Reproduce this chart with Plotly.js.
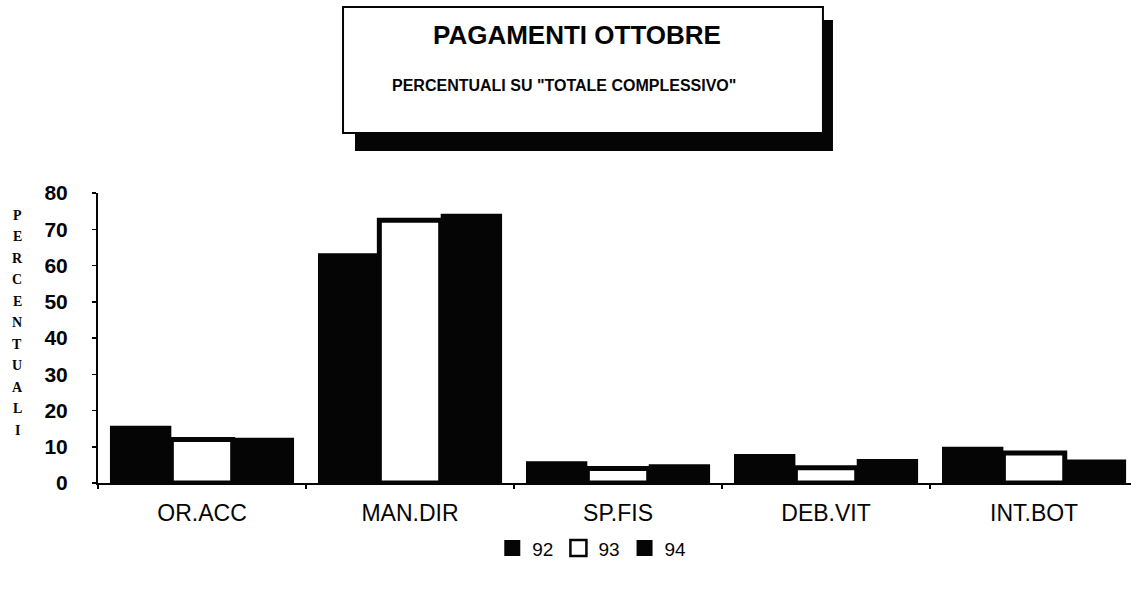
<!DOCTYPE html>
<html>
<head>
<meta charset="utf-8">
<script src="https://cdn.plot.ly/plotly-3.0.1.min.js"></script>
<style>
  html, body { margin: 0; padding: 0; background: #fff; }
  #chart { width: 1131px; height: 590px; }
</style>
</head>
<body>
<div id="chart"></div>
<script>
// ---- data ----
const categories = ["OR.ACC", "MAN.DIR", "SP.FIS", "DEB.VIT", "INT.BOT"];
const seriesNames = ["92", "93", "94"];
const values92 = [15.8, 63.4, 6.0, 8.0, 10.0];
const values93 = [12.0, 72.5, 4.0, 4.2, 8.3];
const values94 = [12.5, 74.3, 5.2, 6.6, 6.5];
const yTickValues = [0, 10, 20, 30, 40, 50, 60, 70, 80];
const chartTitle = "PAGAMENTI OTTOBRE";
const chartSubtitle = "PERCENTUALI SU \"TOTALE COMPLESSIVO\"";
const yTitle = "PERCENTUALI";

// ---- style ----
const INK = "#050505";
const SANS = "Liberation Sans, Arial, sans-serif";
const SERIF = "Liberation Serif, Times New Roman, serif";

const barTrace = (name, vals, white) => ({
  type: "bar",
  name: name,
  x: categories,
  y: vals,
  showlegend: false,
  hoverinfo: "skip",
  marker: white
    ? { color: "#ffffff", line: { color: INK, width: 5 } }
    : { color: INK, line: { color: INK, width: 0 } }
});

const legendTrace = (name, white) => ({
  type: "scatter",
  mode: "markers",
  name: name,
  x: [null],
  y: [null],
  showlegend: true,
  marker: {
    symbol: "square",
    size: 16,
    color: white ? "#ffffff" : INK,
    line: { color: INK, width: white ? 2.5 : 0 }
  }
});

const data = [
  barTrace(seriesNames[0], values92, false),
  barTrace(seriesNames[1], values93, true),
  barTrace(seriesNames[2], values94, false),
  legendTrace(seriesNames[0], false),
  legendTrace(seriesNames[1], true),
  legendTrace(seriesNames[2], false)
];

// vertical, letter-by-letter axis title
const letterAnnotations = yTitle.split("").map((ch, i) => ({
  xref: "paper", yref: "paper",
  x: -0.078, y: (483 - 215 - i * 21.5) / 290,
  xanchor: "center", yanchor: "middle",
  text: "<b>" + ch + "</b>",
  showarrow: false,
  font: { family: SERIF, size: 14, color: INK }
}));

const layout = {
  width: 1131,
  height: 590,
  margin: { l: 98, r: 0, t: 193, b: 107 },
  paper_bgcolor: "#ffffff",
  plot_bgcolor: "#ffffff",
  barmode: "group",
  bargap: 0.115,
  bargroupgap: 0,
  showlegend: true,
  legend: {
    orientation: "h",
    x: 0.478, xanchor: "center",
    y: -0.225, yanchor: "middle",
    font: { family: SANS, size: 19, color: INK },
    itemsizing: "trace",
    itemwidth: 30,
    bgcolor: "rgba(0,0,0,0)"
  },
  xaxis: {
    type: "category",
    range: [-0.5, 4.466],
    showline: true,
    linecolor: INK,
    linewidth: 2,
    ticks: "outside",
    tickson: "boundaries",
    ticklen: 4,
    tickwidth: 1.5,
    tickcolor: INK,
    showgrid: false,
    zeroline: false,
    ticklabelstandoff: 8,
    tickfont: { family: SANS, size: 23, color: INK }
  },
  yaxis: {
    range: [0, 80],
    tickvals: yTickValues,
    ticktext: yTickValues.map(String),
    showline: true,
    linecolor: INK,
    linewidth: 2,
    ticks: "outside",
    ticklen: 4,
    tickwidth: 1.5,
    tickcolor: INK,
    showgrid: false,
    zeroline: false,
    ticklabelstandoff: 20,
    tickfont: { family: SANS, size: 21, color: INK, weight: "bold" }
  },
  shapes: [
    // shadow of the title box
    { type: "rect", xref: "paper", yref: "paper",
      x0: 0.2488, x1: 0.7115, y0: 1.1448, y1: 1.5966,
      fillcolor: INK, line: { width: 0 }, layer: "above" },
    // title box
    { type: "rect", xref: "paper", yref: "paper",
      x0: 0.2372, x1: 0.7018, y0: 1.2069, y1: 1.6414,
      fillcolor: "#ffffff", line: { color: INK, width: 2 }, layer: "above" }
  ],
  annotations: [
    { xref: "paper", yref: "paper", x: 0.4637, y: 1.545,
      xanchor: "center", yanchor: "middle", showarrow: false,
      text: "<b>" + chartTitle + "</b>",
      font: { family: SANS, size: 26, color: INK } },
    { xref: "paper", yref: "paper", x: 0.451, y: 1.372,
      xanchor: "center", yanchor: "middle", showarrow: false,
      text: "<b>" + chartSubtitle + "</b>",
      font: { family: SANS, size: 16, color: INK } }
  ].concat(letterAnnotations)
};

Plotly.newPlot("chart", data, layout, { staticPlot: true, displayModeBar: false });
</script>
</body>
</html>
